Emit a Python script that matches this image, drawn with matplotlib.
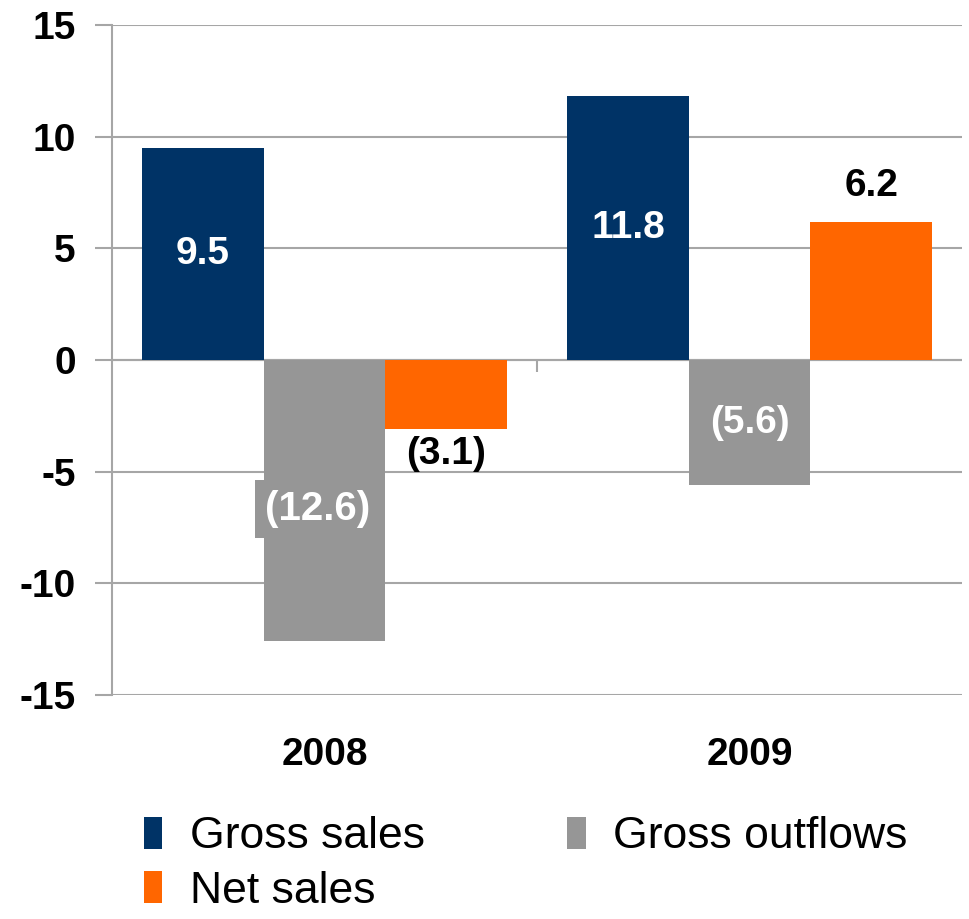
import numpy as np
import matplotlib.pyplot as plt

years = ['2008', '2009']
gross_sales = [9.5, 11.8]
gross_outflows = [-12.6, -5.6]
net_sales = [-3.1, 6.2]
sales_labels = ['9.5', '11.8']
outflow_labels = ['(12.6)', '(5.6)']
net_labels = ['(3.1)', '6.2']

navy = '#003366'
grey = '#969696'
orange = '#FF6600'
linec = '#A6A6A6'

plt.rcParams['font.family'] = ['Liberation Sans', 'DejaVu Sans']
plt.rcParams['axes.unicode_minus'] = False

fig = plt.figure(figsize=(9.69, 9.19), dpi=100)
ax = fig.add_axes([0.1156, 0.2437, 0.8772, 0.7291])

x = np.arange(len(years))
w = 0.286
b1 = ax.bar(x - w, gross_sales, w, color=navy, label='Gross sales', zorder=3)
b2 = ax.bar(x, gross_outflows, w, color=grey, label='Gross outflows', zorder=3)
b3 = ax.bar(x + w, net_sales, w, color=orange, label='Net sales', zorder=3)

ax.set_xlim(-0.5, 1.5)
ax.set_ylim(-15, 15)
ax.set_yticks(np.arange(-15, 16, 5))
ax.grid(axis='y', color=linec, lw=1.5, zorder=0)
ax.axhline(0, color=linec, lw=1.5, zorder=2)
ax.vlines(0.5, -0.55, 0, color=linec, lw=1.5, zorder=2)

for s in ['top', 'right', 'bottom']:
    ax.spines[s].set_visible(False)
ax.spines['left'].set_color(linec)
ax.spines['left'].set_linewidth(1.5)
ax.tick_params(axis='y', length=12, width=1.5, color=linec, labelsize=28, pad=14)
for t in ax.get_yticklabels():
    t.set_fontweight('bold')
ax.set_xticks(x)
ax.set_xticklabels(years, fontsize=28, fontweight='bold')
ax.tick_params(axis='x', length=0, pad=30)

# data labels
for i in range(len(years)):
    ax.text(x[i] - w, gross_sales[i] / 2, sales_labels[i], ha='center', va='center',
            color='white', fontsize=28, fontweight='bold', zorder=5)
    if i == 0:
        # label box pokes out of the bar a little, like in the original
        ax.text(x[i] - 0.0165, gross_outflows[i] * 0.53, outflow_labels[i], ha='center',
                va='center', color='white', fontsize=29, fontweight='bold', zorder=5,
                bbox=dict(boxstyle='square,pad=0.25', fc=grey, ec='none'))
    else:
        ax.text(x[i], gross_outflows[i] / 2, outflow_labels[i], ha='center', va='center',
                color='white', fontsize=28, fontweight='bold', zorder=5)
    if net_sales[i] < 0:
        ax.text(x[i] + w, net_sales[i] - 0.3, net_labels[i], ha='center', va='top',
                color='black', fontsize=28, fontweight='bold', zorder=5)
    else:
        ax.text(x[i] + w, net_sales[i] + 0.8, net_labels[i], ha='center', va='bottom',
                color='black', fontsize=28, fontweight='bold', zorder=5)

handles = [b1, b3, b2]
fig.legend(handles, [h.get_label() for h in handles], ncol=2, frameon=False,
           loc='upper left', bbox_to_anchor=(0.13, 0.131),
           prop={'size': 32},
           handlelength=0.42, handleheight=0.75, handletextpad=0.62,
           columnspacing=3.2, labelspacing=0.3, borderaxespad=0)

fig.savefig('out.png', dpi=100)
